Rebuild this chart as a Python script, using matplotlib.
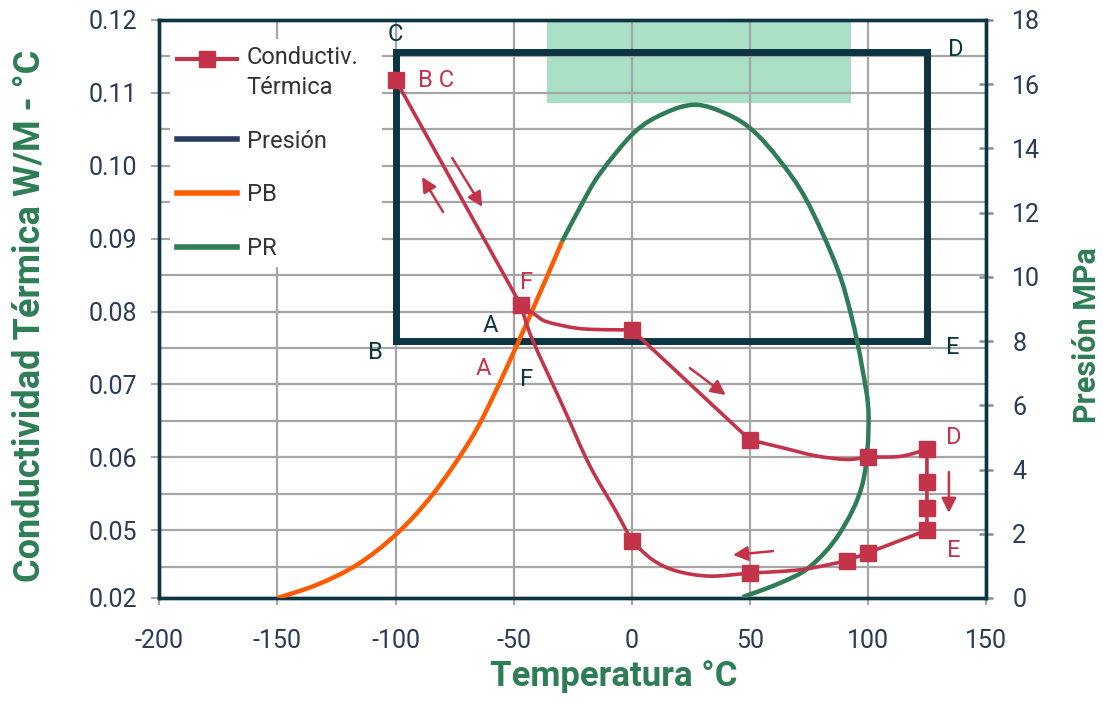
import numpy as np
import matplotlib
matplotlib.use("Agg")
import matplotlib.pyplot as plt
from matplotlib.lines import Line2D
from matplotlib.patches import Rectangle, PathPatch
from matplotlib.path import Path
from matplotlib.legend_handler import HandlerLine2D

plt.rcParams['font.family'] = ['Roboto', 'DejaVu Sans']
plt.rcParams['axes.unicode_minus'] = False

# conductividad termica (eje izq) - puntos con marcador
cond_t = [-100, -47, 0, 50, 100, 125, 125, 125, 125, 100, 91, 50, 0]
cond_k = [0.1118, 0.0809, 0.0775, 0.0624, 0.0600, 0.0612, 0.0566, 0.0531,
          0.0500, 0.0469, 0.0458, 0.0441, 0.0485]
# trazado de la linea (ciclo completo)
trace_t = [-100, -47, -41, -36, -23, -10, 0, 50, 64, 78, 91, 100, 113, 121, 125,
           125, 100, 91, 72, 50, 33, 19, 9, 0, -6.5, -18, -29, -42, -47]
trace_k = [0.1118, 0.0809, 0.0796, 0.0786, 0.0777, 0.0775, 0.0775, 0.0624, 0.0613,
           0.0602, 0.0597, 0.0600, 0.0601, 0.0607, 0.0612, 0.0500, 0.0469, 0.0458,
           0.0446, 0.0441, 0.0437, 0.0444, 0.0459, 0.0485, 0.0525, 0.0590,
           0.0669, 0.0761, 0.0809]
# quiebres del trazado (en los marcadores)
trace_breaks = [0, 1, 6, 7, 14, 15, 16, 17, 23, 28]

# presion (eje der)
pres_t = [-100, -100, 125, 125, -100]
pres_p = [8, 17, 17, 8, 8]
pb_t = [-150, -133, -116, -99.5, -84, -68.5, -58.5, -44.5, -29.5]
pb_p = [0, 0.42, 1.05, 2.0, 3.25, 4.9, 6.3, 8.55, 11.1]
pr_t = [-29.5, -21.7, -13.6, 1.1, 14, 27, 40, 51.1, 62.5, 74, 86.8, 93.1, 97.5,
        100.3, 97.8, 88.1, 75.4, 62.6, 47]
pr_p = [11.1, 12.19, 13.2, 14.5, 15.1, 15.36, 15.08, 14.57, 13.64, 12.39, 10.31,
        8.75, 7.2, 5.64, 3.58, 2.02, 0.97, 0.46, 0.03]
shade_t = [-36, 93]
shade_p = [15.4, 18]

x_ticks = [-200, -150, -100, -50, 0, 50, 100, 150]
k_ticks = [0.0407, 0.05, 0.06, 0.07, 0.08, 0.09, 0.10, 0.11, 0.12]
k_labels = ['0.02', '0.05', '0.06', '0.07', '0.08', '0.09', '0.10', '0.11', '0.12']
k_minor = [0.045, 0.055, 0.065, 0.075, 0.085, 0.095, 0.105, 0.115]
p_ticks = [0, 2, 4, 6, 8, 10, 12, 14, 16, 18]

RED = '#c3344a'
DARK = '#0b3540'
NAVY = '#2b3d5c'
ORANGE = '#ff5a00'
GREEN = '#2e7d57'
GRID = '#a6a6a6'
TXT = '#2b3a55'


def smooth_path(xs, ys):
    # linea suavizada (tipo Excel) a traves de los puntos leidos
    pts = list(zip(xs, ys))
    n = len(pts)
    verts = [pts[0]]
    codes = [Path.MOVETO]
    for i in range(n - 1):
        p0 = pts[i - 1] if i > 0 else pts[i]
        p1, p2 = pts[i], pts[i + 1]
        p3 = pts[i + 2] if i + 2 < n else pts[i + 1]
        c1 = (p1[0] + (p2[0] - p0[0]) / 6, p1[1] + (p2[1] - p0[1]) / 6)
        c2 = (p2[0] - (p3[0] - p1[0]) / 6, p2[1] - (p3[1] - p1[1]) / 6)
        verts += [c1, c2, p2]
        codes += [Path.CURVE4] * 3
    return Path(verts, codes)


class HandlerFirstLine(HandlerLine2D):
    # pone el simbolo a la altura de la primera linea del texto
    def create_artists(self, legend, orig_handle, xdescent, ydescent, width,
                       height, fontsize, trans):
        arts = super().create_artists(legend, orig_handle, xdescent, ydescent,
                                      width, height, fontsize, trans)
        for a in arts:
            a.set_ydata(np.asarray(a.get_ydata()) + 0.62 * fontsize)
        return arts


fig = plt.figure(figsize=(11.03, 7.05), dpi=100)
ax = fig.add_axes([0.1445, 0.1518, 0.7494, 0.8199])
ax2 = ax.twinx()

ax.set_xlim(-200, 150)
ax.set_ylim(0.0407, 0.12)
ax2.set_ylim(0, 18)

ax.set_xticks(x_ticks)
ax.set_yticks(k_ticks)
ax.set_yticklabels(k_labels)
ax.set_yticks(k_minor, minor=True)
ax2.set_yticks(p_ticks)

ax.set_axisbelow(True)
ax.grid(axis='x', which='major', color=GRID, lw=1.6)
ax.grid(axis='y', which='both', color=GRID, lw=1.6)

ax.tick_params(axis='y', which='major', direction='out', length=6, width=1.5,
               color=GRID, labelsize=18, labelcolor=TXT, pad=10)
ax.tick_params(axis='y', which='minor', length=0)
ax.tick_params(axis='x', direction='out', length=5, width=1.5, color=GRID,
               labelsize=18, labelcolor=TXT, pad=17)
ax2.tick_params(axis='y', direction='inout', length=10, width=1.8, color='#8c8c8c',
                labelsize=18, labelcolor=TXT, pad=14)

for a in (ax, ax2):
    for s in a.spines.values():
        s.set_color(DARK)
        s.set_linewidth(2.4)

# zona sombreada
ax.add_patch(Rectangle((shade_t[0], shade_p[0]), shade_t[1] - shade_t[0],
                       shade_p[1] - shade_p[0], transform=ax2.transData,
                       facecolor='#a8dfc5', lw=0, zorder=0.2))

ax2.plot(pres_t, pres_p, color=DARK, lw=5, solid_joinstyle='miter', zorder=3)
ax2.add_patch(PathPatch(smooth_path(pb_t, pb_p), facecolor='none', edgecolor=ORANGE,
                        lw=3.2, capstyle='butt', zorder=4))
ax2.add_patch(PathPatch(smooth_path(pr_t, pr_p), facecolor='none', edgecolor=GREEN,
                        lw=3.2, capstyle='butt', zorder=4))
for a, b in zip(trace_breaks[:-1], trace_breaks[1:]):
    ax2.add_patch(PathPatch(smooth_path(trace_t[a:b + 1], trace_k[a:b + 1]),
                            facecolor='none', edgecolor=RED, lw=2.6,
                            transform=ax.transData, zorder=5))
ax2.plot(cond_t, cond_k, ls='none', marker='s', ms=11, color=RED,
         transform=ax.transData, zorder=6)

# etiquetas de estados
for s, t, p in [('C', -100, 17.55), ('D', 137, 17.07), ('B', -108.5, 7.63),
                ('E', 136, 7.79), ('A', -60, 8.47), ('F', -44.4, 6.79)]:
    ax2.text(t, p, s, color=DARK, fontsize=17, ha='center', va='center', zorder=7)
for s, t, p in [('B C', -83, 16.13), ('F', -44.4, 9.81), ('A', -63, 7.16),
                ('D', 136.5, 5.01), ('E', 136.5, 1.49)]:
    ax2.text(t, p, s, color=RED, fontsize=17, ha='center', va='center', zorder=7)

arrows = [((-76.0, 13.70), (-63.3, 12.18)), ((-79.9, 12.02), (-88.8, 13.11)),
          ((24.6, 7.16), (39.8, 6.32)), ((134.3, 3.92), (134.3, 2.65)),
          ((59.8, 1.46), (42.9, 1.34))]
for tail, head in arrows:
    ax2.annotate('', xy=head, xytext=tail, zorder=7,
                 arrowprops=dict(arrowstyle='-|>', color=RED, lw=1.8,
                                 mutation_scale=22, shrinkA=0, shrinkB=0))

h_cond = Line2D([], [], color=RED, lw=3, marker='s', ms=12)
handles = [h_cond,
           Line2D([], [], color=NAVY, lw=4),
           Line2D([], [], color=ORANGE, lw=4),
           Line2D([], [], color=GREEN, lw=4)]
labels = ['Conductiv.\nTérmica', 'Presión', 'PB', 'PR']
leg = ax2.legend(handles, labels, loc='upper left', mode='expand',
                 bbox_to_anchor=(0.0128, 0.0, 0.2565, 0.967),
                 frameon=True, facecolor='white', edgecolor='none', framealpha=1,
                 fancybox=False, fontsize=17, handlelength=2.55, handletextpad=0.4,
                 labelspacing=1.3, borderpad=0.3, borderaxespad=0,
                 handler_map={h_cond: HandlerFirstLine()})
leg.set_zorder(10)
for txt in leg.get_texts():
    txt.set_color('#333333')
    txt.set_linespacing(1.38)

ax.set_xlabel('Temperatura °C', fontsize=25, fontweight='bold', color=GREEN)
ax.xaxis.set_label_coords(0.55, -0.108)
ax.set_ylabel('Conductividad Térmica W/M - °C', fontsize=26, fontweight='bold',
              color=GREEN)
ax.yaxis.set_label_coords(-0.135, 0.488)
ax2.set_ylabel('Presión MPa', fontsize=22, fontweight='bold', color=GREEN)
ax2.yaxis.set_label_coords(1.104, 0.455)

fig.savefig('out.png', dpi=100)
